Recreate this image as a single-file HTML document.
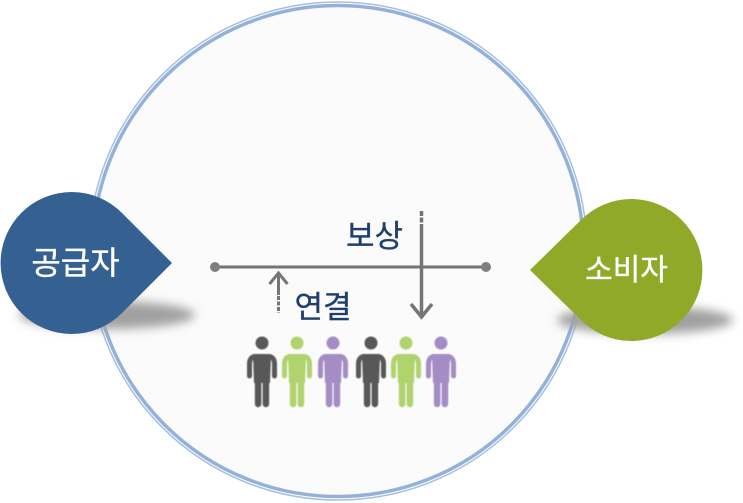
<!DOCTYPE html>
<html lang="ko"><head><meta charset="utf-8"><style>
html,body{margin:0;padding:0;background:#fff}
svg{display:block}
text{font-family:"Liberation Sans","Noto Sans CJK KR",sans-serif}
</style></head><body>
<svg width="743" height="503" viewBox="0 0 743 503" xmlns="http://www.w3.org/2000/svg">
<defs>
<filter id="b" x="-30%" y="-80%" width="160%" height="260%"><feGaussianBlur stdDeviation="5"/></filter>
<filter id="s" x="-20%" y="-10%" width="140%" height="120%"><feGaussianBlur stdDeviation="0.6"/></filter>
<g id="p" filter="url(#s)" stroke="currentColor" fill="none" stroke-linecap="round">
<circle cx="0" cy="0" r="6.5" fill="currentColor" stroke="none"/>
<path d="M-8 11 H8 Q9 11 9 12 L8 40 H-8 L-9 12 Q-9 11 -8 11Z" fill="currentColor" stroke="none"/>
<path d="M-6 13.500 Q-12.500 13.500 -12.500 21 V33" stroke-width="5"/>
<path d="M6 13.500 Q12.500 13.500 12.500 21 V33" stroke-width="5"/>
<path d="M-3.900 36 V61" stroke-width="6.500"/>
<path d="M3.900 36 V61" stroke-width="6.500"/>
</g>
</defs>
<rect width="743" height="503" fill="#fff"/>
<circle cx="338" cy="251" r="245.500" fill="#fbfbfb" stroke="#93b1d9" stroke-width="3.500"/>
<circle cx="338" cy="251" r="249" fill="none" stroke="#a3bfe0" stroke-width="1.500"/>
<ellipse cx="107" cy="315" rx="88" ry="14" fill="#a0a0a0" filter="url(#b)"/>
<ellipse cx="645" cy="320" rx="88" ry="14" fill="#a0a0a0" filter="url(#b)"/>
<path d="M172 263 L122 313 A71 71 0 1 1 122 213 Z" fill="#356092"/>
<path d="M530 270 L581 320 A71 71 0 1 0 581 220 Z" fill="#91a928"/>
<g stroke-width="0.350">
<text x="75.500" y="274" font-size="32" fill="#fff" stroke="#fff" text-anchor="middle">공급자</text>
<text x="626.500" y="280" font-size="30" fill="#fff" stroke="#fff" text-anchor="middle">소비자</text>
<text x="374.500" y="247" font-size="31" fill="#1f3f6e" stroke="#1f3f6e" text-anchor="middle">보상</text>
<text x="323" y="318" font-size="31" fill="#1f3f6e" stroke="#1f3f6e" text-anchor="middle">연결</text>
</g>
<g stroke="#757575" fill="none">
<path d="M215 267 H486" stroke-width="3"/>
<path d="M421.500 228 V318" stroke-width="3.500"/>
<path d="M421.500 211 V228" stroke-width="3.500" stroke-dasharray="5 1.500"/>
<path d="M411 304 L421.500 317 L432 304" stroke-width="3.500"/>
<path d="M278.500 273 V295" stroke-width="3"/>
<path d="M278.500 296 V313" stroke-width="3" stroke-dasharray="4 1.500"/>
<path d="M269.500 284 L278.500 273 L287.500 284" stroke-width="3"/>
</g>
<circle cx="215" cy="267" r="5" fill="#7f7f7f"/>
<circle cx="486" cy="267" r="5" fill="#7f7f7f"/>
<use href="#p" x="262" y="343" color="#595959"/>
<use href="#p" x="297" y="343" color="#b0d36e"/>
<use href="#p" x="333" y="343" color="#a48cc4"/>
<use href="#p" x="371" y="343" color="#595959"/>
<use href="#p" x="406" y="343" color="#b0d36e"/>
<use href="#p" x="441" y="343" color="#a48cc4"/>
</svg>
</body></html>
